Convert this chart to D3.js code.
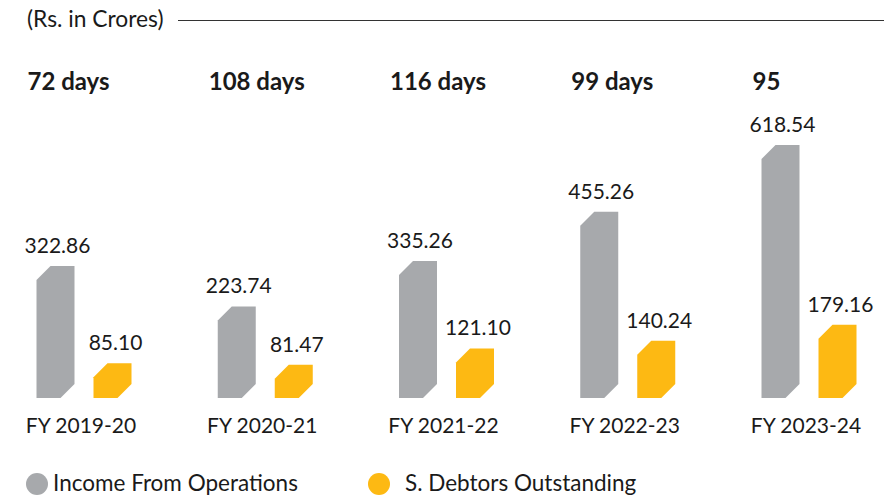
<!DOCTYPE html>
<html>
<head>
<meta charset="utf-8">
<script src="https://cdn.jsdelivr.net/npm/d3@7"></script>
<style>
  body { margin: 0; background: #fff; }
  svg text { font-family: Lato, "Open Sans", sans-serif; fill: #1a1a1a; }
</style>
</head>
<body>
<div class="chart"></div>
<script>
var years = ["FY 2019-20", "FY 2020-21", "FY 2021-22", "FY 2022-23", "FY 2023-24"];
var income = [322.86, 223.74, 335.26, 455.26, 618.54];
var debtors = [85.10, 81.47, 121.10, 140.24, 179.16];
var dayLabels = ["72 days", "108 days", "116 days", "99 days", "95"];
var seriesNames = ["Income From Operations", "S. Debtors Outstanding"];
var colors = ["#a7a9ac", "#fdb913"];

var svgWidth = 884;
var svgHeight = 498;
var baseY = 398;
var barW = 38;
var cut = 14;

var svg = d3.select(".chart")
  .append("svg")
  .attr("width", svgWidth)
  .attr("height", svgHeight);

var x = d3.scaleBand()
  .domain(years)
  .range([27.5, 27.5 + 181.25 * years.length])
  .padding(0);

var y = d3.scaleLinear()
  .domain([0, 700])
  .range([baseY, baseY - 700 * 0.409]);

// bar with cut top-left and bottom-right corners
function barPath(x0, yTop) {
  var w = barW;
  return `M${x0},${yTop + cut} L${x0 + cut},${yTop} L${x0 + w},${yTop}` +
    ` L${x0 + w},${baseY - cut} L${x0 + w - cut},${baseY} L${x0},${baseY} Z`;
}

var rows = years.map(function(yr, i) {
  return { year: yr, income: income[i], debtors: debtors[i], days: dayLabels[i] };
});

// header
svg.append("text")
  .attr("x", 27)
  .attr("y", 27)
  .style("font-size", "22.8px")
  .text("(Rs. in Crores)");

svg.append("line")
  .attr("x1", 178).attr("x2", 884)
  .attr("y1", 20.5).attr("y2", 20.5)
  .attr("stroke", "#333")
  .attr("stroke-width", 1);

var groups = svg.selectAll("g.year")
  .data(rows)
  .enter()
  .append("g")
  .attr("class", "year");

groups.append("text")
  .attr("x", d => x(d.year))
  .attr("y", 90)
  .style("font-size", "24px")
  .style("font-weight", "bold")
  .text(d => d.days);

groups.append("path")
  .attr("d", d => barPath(x(d.year) + 9, y(d.income)))
  .attr("fill", colors[0]);

groups.append("path")
  .attr("d", d => barPath(x(d.year) + 66, y(d.debtors)))
  .attr("fill", colors[1]);

groups.append("text")
  .attr("x", d => x(d.year) + 9 + barW / 2 + 2)
  .attr("y", d => y(d.income) - 13)
  .attr("text-anchor", "middle")
  .style("font-size", "21px")
  .text(d => d.income.toFixed(2));

groups.append("text")
  .attr("x", d => x(d.year) + 66 + barW / 2 + 3)
  .attr("y", d => y(d.debtors) - 13)
  .attr("text-anchor", "middle")
  .style("font-size", "21px")
  .text(d => d.debtors.toFixed(2));

groups.append("text")
  .attr("x", d => x(d.year) + 53.5)
  .attr("y", 433)
  .attr("text-anchor", "middle")
  .style("font-size", "21px")
  .text(d => d.year);

// legend
var legendX = [37, 379];
var textX = [53, 405];
seriesNames.forEach(function(name, i) {
  svg.append("circle")
    .attr("cx", legendX[i])
    .attr("cy", 484)
    .attr("r", 11)
    .attr("fill", colors[i]);
  svg.append("text")
    .attr("x", textX[i])
    .attr("y", 491)
    .style("font-size", "22.5px")
    .text(name);
});
</script>
</body>
</html>
